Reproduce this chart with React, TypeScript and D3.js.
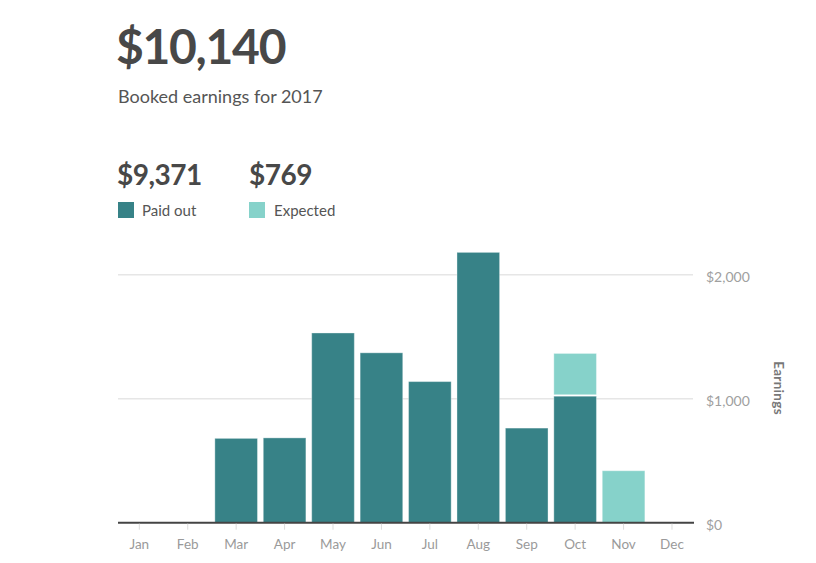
import React from "react";
import * as d3 from "d3";

const months = ["Jan", "Feb", "Mar", "Apr", "May", "Jun", "Jul", "Aug", "Sep", "Oct", "Nov", "Dec"];
const paidOut = [0, 0, 680, 684, 1530, 1370, 1138, 2180, 763, 1020, 0, 0];
const expected = [0, 0, 0, 0, 0, 0, 0, 0, 0, 345, 419, 0];
const yTicks = [0, 1000, 2000];
const totalLabel = "$10,140";
const subtitle = "Booked earnings for 2017";
const paidTotal = "$9,371";
const expectedTotal = "$769";

const DARK = "#378287";
const LIGHT = "#86d2ca";
const TEXT = "#484848";
const FONT = "Lato, 'Noto Sans', sans-serif";

export default function App() {
  const W = 816, H = 563;
  const x = d3.scaleBand<string>().domain(months).range([115.1, 696.2]).paddingInner(0.12).paddingOuter(0.06);
  const y = d3.scaleLinear().domain([0, 2000]).range([522.7, 274.7]);
  const fmt = (v: number) => "$" + d3.format(",")(v);
  const plotL = 118, plotR = 694;

  return (
    <svg width={W} height={H} style={{ position: "absolute", left: 0, top: 0, fontFamily: FONT }}>
      <rect width={W} height={H} fill="#fff" />
      <text x={116} y={64} fontSize={48} fontWeight={700} fill={TEXT} letterSpacing={-1.3}>{totalLabel}</text>
      <text x={118} y={103} fontSize={18} fill="#555">{subtitle}</text>

      <text x={117} y={185} fontSize={28} fontWeight={700} fill={TEXT} letterSpacing={-0.5}>{paidTotal}</text>
      <text x={249} y={185} fontSize={28} fontWeight={700} fill={TEXT} letterSpacing={-0.5}>{expectedTotal}</text>
      <rect x={118} y={202} width={16} height={16} fill={DARK} />
      <text x={142} y={216} fontSize={15} fill="#555">Paid out</text>
      <rect x={249} y={202} width={16} height={16} fill={LIGHT} />
      <text x={274} y={216} fontSize={15} fill="#555">Expected</text>

      {yTicks.filter(t => t > 0).map(t => (
        <line key={t} x1={plotL} x2={plotR - 1} y1={y(t)} y2={y(t)} stroke="#e6e6e6" strokeWidth={1.5} />
      ))}

      {months.map((m, i) => {
        const bx = x(m)!;
        const bw = x.bandwidth();
        const p = paidOut[i];
        const e = expected[i];
        return (
          <g key={m}>
            {p > 0 && (
              <rect x={bx} y={y(p)} width={bw} height={y(0) - y(p)} fill={DARK}
                stroke="rgba(255,255,255,0.35)" strokeWidth={1} />
            )}
            {e > 0 && (
              <rect x={bx} y={y(p + e)} width={bw} height={y(p) - y(p + e) - (p > 0 ? 1.5 : 0)} fill={LIGHT}
                stroke="rgba(255,255,255,0.35)" strokeWidth={1} />
            )}
          </g>
        );
      })}

      <line x1={plotL} x2={plotR} y1={y(0)} y2={y(0)} stroke="#444" strokeWidth={2} />

      {months.map(m => {
        const cx = x(m)! + x.bandwidth() / 2;
        return (
          <g key={"t" + m}>
            <line x1={cx} x2={cx} y1={y(0) + 1} y2={y(0) + 7} stroke="#ddd" strokeWidth={1} />
            <text x={cx} y={549} fontSize={13.5} fill="#9a9a9a" textAnchor="middle">{m}</text>
          </g>
        );
      })}

      {yTicks.map(t => (
        <text key={"y" + t} x={706} y={y(t) + 7.5} fontSize={14} fill="#a0a0a0">{fmt(t)}</text>
      ))}

      <text transform="translate(774,388) rotate(90)" fontSize={13.5} fontWeight={700} fill="#777" textAnchor="middle" letterSpacing={0.3}>Earnings</text>
    </svg>
  );
}
